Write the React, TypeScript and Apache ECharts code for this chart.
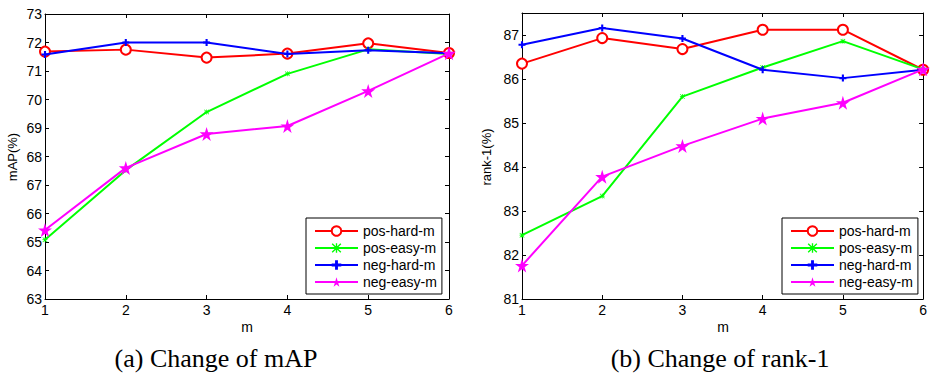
import React, { useEffect, useRef } from "react";
import * as echarts from "echarts";

const mValues = [1, 2, 3, 4, 5, 6];
const seriesNames = ["pos-hard-m", "pos-easy-m", "neg-hard-m", "neg-easy-m"];

const posHardMAP = [71.68, 71.75, 71.47, 71.61, 71.97, 71.63];
const posEasyMAP = [65.08, 67.52, 69.56, 70.9, 71.76, 71.6];
const negHardMAP = [71.58, 72.0, 72.0, 71.6, 71.73, 71.62];
const negEasyMAP = [65.42, 67.6, 68.79, 69.07, 70.3, 71.62];

const posHardR1 = [86.35, 86.93, 86.68, 87.12, 87.12, 86.21];
const posEasyR1 = [82.45, 83.34, 85.6, 86.26, 86.86, 86.22];
const negHardR1 = [86.78, 87.16, 86.92, 86.21, 86.02, 86.21];
const negEasyR1 = [81.76, 83.78, 84.48, 85.1, 85.46, 86.22];

const captions = ["(a) Change of mAP", "(b) Change of rank-1"];
const yNames = ["mAP(%)", "rank-1(%)"];
const xName = "m";

const colors = ["#ff0000", "#00ff00", "#0000ff", "#ff00ff"];
const PLUS = "path://M3.5,0 H6.5 V3.5 H10 V6.5 H6.5 V10 H3.5 V6.5 H0 V3.5 H3.5 Z";
const AST = "path://M0,1 L1,0 L5,4 L9,0 L10,1 L6,5 L10,9 L9,10 L5,6 L1,10 L0,9 L4,5 Z M4.3,0 H5.7 V4.3 H10 V5.7 H5.7 V10 H4.3 V5.7 H0 V4.3 H4.3 Z";
const STAR = "path://M50,0 L61,35 L98,35 L68,57 L79,91 L50,70 L21,91 L32,57 L2,35 L39,35 Z";
const symbols = ["emptyCircle", AST, PLUS, STAR];
const symbolSizes = [10, 5, 7, 14];

const FONT = "Liberation Sans";

export default function App() {
  const ref = useRef<HTMLDivElement>(null);
  useEffect(() => {
    if (!ref.current) return;
    const chart = echarts.init(ref.current, undefined, { renderer: "svg" });
    const mapData = [posHardMAP, posEasyMAP, negHardMAP, negEasyMAP];
    const r1Data = [posHardR1, posEasyR1, negHardR1, negEasyR1];

    const mkX = (gridIndex: number, position: "bottom" | "top") => ({
      type: "value",
      gridIndex,
      position,
      min: 1,
      max: 6,
      interval: 1,
      axisLine: { show: true, onZero: false, lineStyle: { color: "#000", width: 1 } },
      axisTick: { show: true, inside: true, length: 4, lineStyle: { color: "#000" } },
      axisLabel: {
        show: position === "bottom",
        color: "#000",
        fontSize: 14,
        fontFamily: FONT,
        margin: 4,
      },
      splitLine: { show: false },
    });
    const mkY = (gridIndex: number, position: "left" | "right", min: number, max: number) => ({
      type: "value",
      gridIndex,
      position,
      min,
      max,
      interval: 1,
      axisLine: { show: true, onZero: false, lineStyle: { color: "#000", width: 1 } },
      axisTick: { show: true, inside: true, length: 4, lineStyle: { color: "#000" } },
      axisLabel: {
        show: position === "left",
        color: "#000",
        fontSize: 14,
        fontFamily: FONT,
        margin: 3,
        formatter: (v: number) => (Number.isInteger(v) ? String(v) : ""),
      },
      splitLine: { show: false },
    });

    const mkSeries = (data: number[][], xAxisIndex: number, yAxisIndex: number) =>
      seriesNames.map((name, i) => ({
        type: "line",
        name,
        xAxisIndex,
        yAxisIndex,
        data: mValues.map((m, j) => [m, data[i][j]]),
        symbol: symbols[i],
        symbolSize: symbolSizes[i],
        showAllSymbol: true,
        lineStyle: { color: colors[i], width: 2 },
        itemStyle: { color: colors[i], borderColor: colors[i], borderWidth: i === 0 ? 1.6 : 0 },
        z: 2 + i,
      }));

    const mkLegend = (left: number) => ({
      left,
      top: 218,
      orient: "vertical",
      data: seriesNames,
      selectedMode: false,
      borderColor: "#000",
      borderWidth: 1,
      backgroundColor: "#fff",
      padding: [6, 5, 5, 8],
      itemWidth: 43,
      itemHeight: 12,
      itemGap: 3,
      textStyle: { color: "#000", fontSize: 14, fontFamily: FONT },
    });

    chart.setOption({
      animation: false,
      backgroundColor: "#fff",
      grid: [
        { left: 45, top: 14, width: 404, height: 285 },
        { left: 522, top: 13, width: 402, height: 286 },
      ],
      xAxis: [mkX(0, "bottom"), mkX(0, "top"), mkX(1, "bottom"), mkX(1, "top")],
      yAxis: [mkY(0, "left", 63, 73), mkY(0, "right", 63, 73), mkY(1, "left", 81, 87.5), mkY(1, "right", 81, 87.5)],
      legend: [mkLegend(306), mkLegend(782)],
      series: [...mkSeries(mapData, 0, 0), ...mkSeries(r1Data, 2, 2)],
      graphic: [
        {
          type: "text",
          x: 12,
          y: 157,
          rotation: Math.PI / 2,
          style: { text: yNames[0], fontSize: 13, fontFamily: FONT, fill: "#000", align: "center", verticalAlign: "middle" },
        },
        {
          type: "text",
          x: 486,
          y: 157,
          rotation: Math.PI / 2,
          style: { text: yNames[1], fontSize: 13, fontFamily: FONT, fill: "#000", align: "center", verticalAlign: "middle" },
        },
        {
          type: "text",
          x: 247,
          y: 327,
          style: { text: xName, fontSize: 14, fontFamily: FONT, fill: "#000", align: "center", verticalAlign: "middle" },
        },
        {
          type: "text",
          x: 723,
          y: 327,
          style: { text: xName, fontSize: 14, fontFamily: FONT, fill: "#000", align: "center", verticalAlign: "middle" },
        },
        {
          type: "text",
          x: 216,
          y: 358,
          style: { text: captions[0], fontSize: 26, fontFamily: "Liberation Serif", fill: "#000", align: "center", verticalAlign: "middle" },
        },
        {
          type: "text",
          x: 720,
          y: 358,
          style: { text: captions[1], fontSize: 26, fontFamily: "Liberation Serif", fill: "#000", align: "center", verticalAlign: "middle" },
        },
      ],
    });
    return () => chart.dispose();
  }, []);
  return (
    <div
      ref={ref}
      style={{ position: "absolute", left: 0, top: 0, width: 930, height: 374 }}
    />
  );
}
